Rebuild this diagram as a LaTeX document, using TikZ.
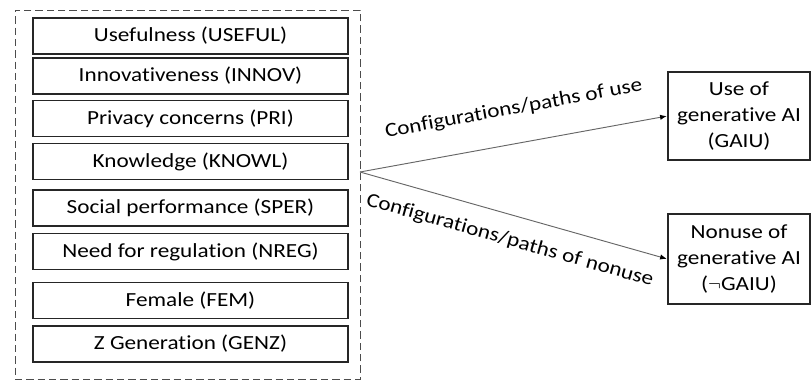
\documentclass[tikz,border=0pt]{standalone}
\usepackage{fontspec}
\setmainfont{Carlito}[FakeStretch=1.16, Ligatures=NoCommon]
\usetikzlibrary{positioning,arrows.meta}
\tikzset{
  flowarrow/.style={-{Latex[length=5pt,width=4pt,color=black]}, line width=0.7pt, black!60, shorten >=0.5pt},
  varbox/.style={draw, line width=0.9pt, black!85, text=black, minimum width=236.25pt, minimum height=27pt, inner sep=0pt, align=center},
  outbox/.style={draw, line width=0.9pt, black!85, text=black, minimum width=106.5pt, align=center, inner sep=0pt},
  framebox/.style={draw, dashed, dash pattern=on 5.5pt off 3pt, line width=0.7pt, black!70, minimum width=258.75pt, minimum height=276.75pt, inner sep=0pt},
  pathlabel/.style={text=black, sloped, inner sep=0pt}
}

\begin{document}
\begin{tikzpicture}[x=0.75pt, y=-0.75pt, every node/.style={font=\fontsize{15}{19.5}\selectfont}]
      \useasboundingbox (0,0) rectangle (812,381);
      \node[framebox] (frame) at (187.5,194.5) {};
      % condition variables
      \node[varbox] (useful) at (190.5,36) {Usefulness (USEFUL)};
      \node[varbox] (innov) at (190.5,76) {Innovativeness (INNOV)};
      \node[varbox] (pri) at (190.5,118.5) {Privacy concerns (PRI)};
      \node[varbox] (knowl) at (190.5,161.5) {Knowledge (KNOWL)};
      \node[varbox] (sper) at (190.5,208) {Social performance (SPER)};
      \node[varbox] (nreg) at (190.5,251.5) {Need for regulation (NREG)};
      \node[varbox] (fem) at (190.5,300.5) {Female (FEM)};
      \node[varbox] (genz) at (190.5,344) {Z Generation (GENZ)};
      % outcomes
      \node[outbox, minimum height=66pt] (use) at (739,116) {Use of\\generative AI\\(GAIU)};
      \node[outbox, minimum height=67.5pt] (nonuse) at (739,259) {Nonuse of\\generative AI\\($\neg$GAIU)};
      \coordinate (fork) at (360,172);
      \draw[flowarrow] (fork) -- node[pathlabel, pos=0.52, above=19pt] {Configurations/paths of use} (use.west);
      \draw[flowarrow] (fork) -- node[pathlabel, pos=0.51, below=12pt] {Configurations/paths of nonuse} (nonuse.west);
    \end{tikzpicture}
\end{document}
